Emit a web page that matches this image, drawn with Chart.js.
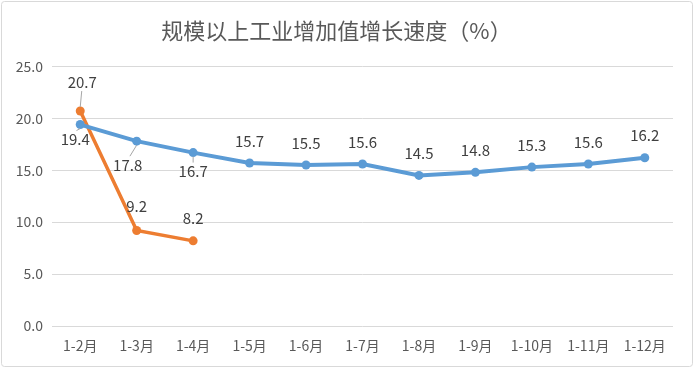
<!DOCTYPE html>
<html>
<head>
<meta charset="utf-8">
<script src="https://cdn.jsdelivr.net/npm/chart.js@4/dist/chart.umd.min.js"></script>
<style>
  html, body { margin: 0; padding: 0; background: #fff; }
  #wrap { width: 694px; height: 368px; position: relative; }
</style>
</head>
<body>
<div id="wrap"><canvas id="lineChart" width="694" height="368"></canvas></div>
<script>
const months = ['1-2月', '1-3月', '1-4月', '1-5月', '1-6月', '1-7月', '1-8月', '1-9月', '1-10月', '1-11月', '1-12月'];
const growth2021 = [19.4, 17.8, 16.7, 15.7, 15.5, 15.6, 14.5, 14.8, 15.3, 15.6, 16.2];
const growth2022 = [20.7, 9.2, 8.2];
const yTicks = [0, 5, 10, 15, 20, 25];

// label placement per point: [dx, dy, leader line]
const blueLabelPos = [[-5, 15, true], [-9, 24, true], [0, 19, true]];
const orangeLabelPos = [[2, -29, true], [0, -24, false], [0, -23, false]];

const labelFont = '15px "Noto Sans CJK SC", "Liberation Sans", sans-serif';

const frame = {
    id: 'frame',
    beforeDraw(chart) {
        const c = chart.ctx;
        c.save();
        c.fillStyle = '#fff';
        c.fillRect(0, 0, chart.width, chart.height);
        c.strokeStyle = '#d9d9d9';
        c.lineWidth = 1;
        c.beginPath();
        c.roundRect(1.5, 1.5, chart.width - 3, chart.height - 3, 3);
        c.stroke();
        c.restore();
    }
};

const pointLabels = {
    id: 'pointLabels',
    afterDatasetsDraw(chart) {
        const c = chart.ctx;
        c.save();
        c.font = labelFont;
        c.fillStyle = '#404040';
        c.textAlign = 'center';
        c.textBaseline = 'middle';
        chart.data.datasets.forEach((ds, i) => {
            const meta = chart.getDatasetMeta(i);
            const pos = i === 0 ? blueLabelPos : orangeLabelPos;
            meta.data.forEach((pt, j) => {
                const p = pos[j] || [0, -22, false];
                const lx = pt.x + p[0], ly = pt.y + p[1];
                if (p[2]) {
                    const dir = Math.sign(p[1]);
                    c.strokeStyle = '#a6a6a6';
                    c.lineWidth = 1;
                    c.beginPath();
                    c.moveTo(pt.x, pt.y + dir * 4);
                    c.lineTo(pt.x + p[0] * 0.75, ly - dir * 9);
                    c.stroke();
                }
                c.fillText(ds.data[j].toFixed(1), lx, ly);
            });
        });
        c.restore();
    }
};

const ctx = document.getElementById('lineChart').getContext('2d');
new Chart(ctx, {
    type: 'line',
    data: {
        labels: months,
        datasets: [{
            label: '2021',
            data: growth2021,
            borderColor: '#5b9bd5',
            backgroundColor: '#5b9bd5',
            borderWidth: 4,
            pointRadius: 4.5,
            pointBorderWidth: 0,
            tension: 0
        }, {
            label: '2022',
            data: growth2022,
            borderColor: '#ed7d31',
            backgroundColor: '#ed7d31',
            borderWidth: 3.5,
            pointRadius: 4.5,
            pointBorderWidth: 0,
            tension: 0
        }]
    },
    options: {
        responsive: false,
        animation: false,
        layout: { padding: { left: 0, right: 21, top: 0, bottom: 0 } },
        plugins: {
            legend: { display: false },
            tooltip: { enabled: false },
            title: {
                display: true,
                text: '规模以上工业增加值增长速度（%）',
                color: '#595959',
                font: { family: '"Noto Sans CJK SC", sans-serif', size: 22, weight: 'normal' },
                padding: { top: 17, bottom: 23 }
            }
        },
        scales: {
            x: {
                offset: true,
                grid: { display: false, drawTicks: false },
                border: { display: false },
                ticks: {
                    color: '#595959',
                    font: { family: '"Noto Sans CJK SC", sans-serif', size: 14 },
                    padding: 11,
                    maxRotation: 0,
                    autoSkip: false
                },
                afterFit(scale) { scale.height = 42; }
            },
            y: {
                min: 0,
                max: 25,
                afterBuildTicks(scale) { scale.ticks = yTicks.map(v => ({ value: v })); },
                grid: { color: '#d9d9d9', drawTicks: false, lineWidth: 1 },
                border: { display: false },
                ticks: {
                    color: '#595959',
                    font: { family: '"Noto Sans CJK SC", sans-serif', size: 14 },
                    padding: 9,
                    callback: v => v.toFixed(1)
                },
                afterFit(scale) { scale.width = 52; }
            }
        }
    },
    plugins: [frame, pointLabels]
});
</script>
</body>
</html>
